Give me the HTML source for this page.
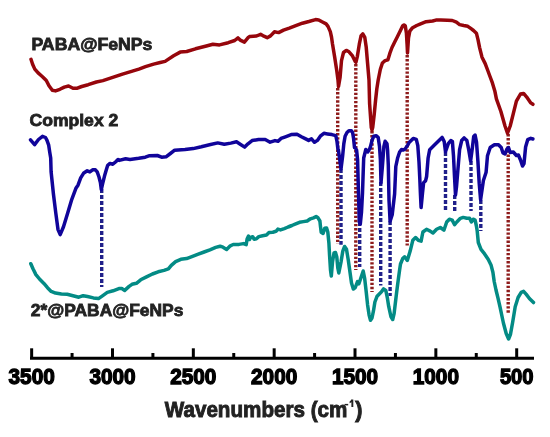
<!DOCTYPE html>
<html><head><meta charset="utf-8"><style>
html,body{margin:0;padding:0;background:#fff;}
svg{display:block;filter:blur(0.3px);}
text{font-family:"Liberation Sans",sans-serif;font-weight:bold;}
</style></head><body>
<svg width="550" height="437" viewBox="0 0 550 437">
<rect width="550" height="437" fill="#fff"/>
<g stroke-width="3.4" stroke-dasharray="2.4 1.7" fill="none">
<line x1="337.7" y1="88" x2="337.7" y2="244" stroke="#8e1c1c" />
<line x1="355.8" y1="64" x2="355.8" y2="270" stroke="#8e1c1c" />
<line x1="372" y1="131" x2="372" y2="292" stroke="#8e1c1c" />
<line x1="407.2" y1="55" x2="407.2" y2="245.6" stroke="#8e1c1c" />
<line x1="508.2" y1="134" x2="508.2" y2="313" stroke="#8e1c1c" />
<line x1="101.7" y1="189" x2="101.7" y2="287" stroke="#20208a" stroke-dasharray="4 2" />
<line x1="341" y1="169" x2="341" y2="244.7" stroke="#20208a" stroke-dasharray="4 2" />
<line x1="359.7" y1="222" x2="359.7" y2="267" stroke="#20208a" stroke-dasharray="4 2" />
<line x1="380.7" y1="182" x2="380.7" y2="285.5" stroke="#20208a" stroke-dasharray="4 2" />
<line x1="390.1" y1="221" x2="390.1" y2="296" stroke="#20208a" stroke-dasharray="4 2" />
<line x1="445.5" y1="152" x2="445.5" y2="212" stroke="#20208a" stroke-dasharray="4 2" />
<line x1="454.7" y1="195" x2="454.7" y2="211" stroke="#20208a" stroke-dasharray="4 2" />
<line x1="471" y1="161" x2="471" y2="211" stroke="#20208a" stroke-dasharray="4 2" />
<line x1="480.8" y1="200" x2="480.8" y2="231" stroke="#20208a" stroke-dasharray="4 2" />
</g>
<g fill="none" stroke-width="3.5" stroke-linejoin="round" stroke-linecap="round">
<polyline stroke="#96060c" points="31.0,59.3 32.6,64.2 34.8,69.1 38.1,72.9 42.5,76.7 46.3,80.5 49.0,85.8 52.3,90.2 55.5,90.9 59.9,89.3 64.3,87.1 68.6,86.0 73.0,88.2 77.4,88.2 81.7,86.5 88.2,84.7 96.4,82.0 102.9,80.6 112.7,77.4 122.5,74.1 130.7,71.6 138.9,69.1 145.5,66.7 153.6,64.1 160.2,62.5 165.1,61.4 173.6,55.8 180.2,52.1 186.7,51.5 195.5,48.8 206.4,46.0 212.9,44.3 219.5,44.9 228.2,42.7 234.7,40.5 238.0,37.9 240.2,40.1 244.4,42.1 248.5,37.2 250.0,36.4 256.5,36.0 260.6,34.3 263.9,36.2 267.2,37.7 270.5,35.9 274.5,31.8 278.6,32.6 283.5,30.1 289.3,28.1 295.8,25.6 302.4,23.2 308.9,21.5 315.5,19.6 318.7,19.9 322.0,21.8 326.1,23.9 328.0,26.4 330.3,31.6 331.5,37.0 332.5,44.0 334.6,56.6 336.7,70.3 338.0,80.0 338.5,86.5 340.1,77.2 341.5,60.7 343.5,52.5 346.3,50.4 349.0,51.8 352.5,55.9 355.2,61.4 355.9,62.3 357.3,56.6 359.3,44.2 361.0,36.0 362.8,33.9 364.8,37.4 366.2,47.0 367.6,63.5 369.0,80.0 369.6,103.6 371.3,127.6 372.0,130.0 372.7,127.6 374.2,114.5 375.6,100.0 376.8,89.0 378.2,80.0 380.3,69.5 382.4,63.0 385.1,60.7 387.9,59.8 389.9,53.2 392.0,47.5 394.7,42.0 397.5,36.5 400.2,31.0 402.6,26.0 404.0,25.0 405.3,26.0 406.4,33.0 407.1,44.7 407.5,53.0 408.5,38.0 409.8,31.2 412.6,27.7 416.7,25.5 420.0,24.1 426.1,21.7 432.6,21.0 435.9,20.1 440.8,20.1 447.4,20.2 452.3,20.5 456.4,22.2 459.6,24.6 463.7,25.5 467.8,26.3 471.1,28.7 473.5,30.5 476.4,33.2 478.0,39.6 479.6,47.6 482.0,57.2 485.2,63.6 487.6,70.0 490.0,76.5 492.4,82.9 494.8,90.9 496.4,98.9 500.9,111.5 505.0,126.0 507.5,133.2 510.2,126.0 513.3,113.6 516.4,101.2 520.5,94.0 523.6,93.4 526.7,97.1 530.8,102.9 532.9,104.3"/>
<polyline stroke="#10049a" points="30.5,139.8 34.6,144.6 38.5,139.5 42.5,136.3 45.5,137.5 47.0,140.4 48.7,145.2 49.7,152.0 50.7,158.0 51.1,171.8 53.4,193.8 55.8,213.1 58.0,229.6 60.2,234.6 63.5,226.8 67.7,213.1 71.8,199.3 75.9,188.3 78.0,185.2 80.7,177.9 83.5,173.3 87.2,170.8 89.9,171.9 92.6,169.8 95.4,169.8 97.2,171.9 99.0,177.0 100.4,182.5 101.3,189.5 102.7,183.4 104.5,176.1 106.4,169.6 107.7,165.3 110.0,163.4 112.8,164.2 115.5,162.0 118.0,159.5 119.2,160.4 125.6,158.8 130.0,159.4 138.7,158.3 145.3,157.2 149.6,155.7 157.3,155.5 161.6,157.2 166.0,156.8 170.4,153.5 174.7,150.2 185.0,149.6 193.2,148.6 201.4,146.8 209.5,144.8 217.7,142.9 224.3,144.3 230.8,143.1 236.5,141.8 240.6,144.4 244.7,147.1 248.0,143.8 252.1,140.6 258.6,139.5 265.2,139.5 270.1,142.2 275.0,140.6 278.1,141.3 281.0,138.4 285.4,136.8 291.2,134.6 297.0,134.2 301.4,136.7 305.7,138.9 308.6,140.4 311.5,138.9 314.5,142.3 317.4,140.4 320.3,136.2 323.9,133.3 327.5,133.9 331.9,134.6 335.8,135.6 337.0,141.5 337.9,149.0 338.4,149.9 339.9,160.8 341.0,169.0 342.6,156.4 343.8,143.9 345.1,136.3 347.0,132.5 348.9,130.7 351.4,130.7 352.6,132.5 353.6,138.8 354.5,147.6 355.1,147.6 356.6,150.1 357.6,160.0 358.4,190.0 359.3,222.0 360.3,224.0 361.5,212.0 362.5,193.0 363.2,172.0 363.7,158.0 365.8,149.5 367.7,152.0 369.0,150.1 370.2,147.6 372.1,140.1 373.8,136.3 376.3,135.7 378.2,137.6 379.5,146.4 380.4,160.0 381.0,182.8 382.5,165.0 383.9,146.4 385.1,141.3 387.0,143.9 387.6,150.1 388.3,165.0 389.0,200.0 390.1,221.2 392.2,214.8 394.6,194.0 395.8,166.5 397.7,157.7 399.6,152.0 401.5,149.5 403.3,150.1 405.2,148.9 407.7,145.1 409.1,142.5 413.2,138.4 416.3,139.4 417.8,145.6 419.0,162.1 419.8,178.6 420.5,195.1 421.1,207.5 422.5,193.0 423.6,182.7 425.6,180.7 426.6,176.5 428.1,158.0 429.7,149.7 433.9,145.6 438.0,141.5 442.1,137.4 444.2,141.5 445.5,151.8 448.3,143.6 450.8,140.5 452.4,141.5 453.5,155.9 454.5,176.5 455.5,195.0 456.5,186.9 458.2,166.2 459.6,149.7 461.7,140.5 464.1,137.9 466.9,140.6 468.8,150.2 470.6,161.0 472.4,147.5 473.7,136.5 475.1,135.1 476.5,142.0 477.9,161.2 479.2,183.2 480.6,199.7 483.4,180.5 486.1,172.2 487.5,155.7 490.2,147.5 494.4,144.7 498.5,144.7 501.2,147.5 503.0,153.0 505.0,154.0 507.0,149.0 508.5,147.5 510.2,152.5 513.3,152.0 516.4,155.5 518.4,155.0 520.5,160.0 522.5,166.0 524.0,163.5 525.6,147.0 527.7,139.7 530.8,138.3 532.9,139.0"/>
<polyline stroke="#038b85" points="30.8,263.7 33.0,268.8 35.9,274.6 39.5,279.0 43.9,283.4 47.5,287.7 51.2,291.4 55.5,293.1 61.4,294.0 67.2,294.3 73.0,295.7 78.8,297.2 83.2,295.7 87.5,296.5 93.4,297.9 98.5,298.6 102.1,296.1 107.3,292.4 113.1,290.8 118.9,288.6 121.8,288.6 124.7,290.4 129.1,286.4 132.0,284.3 136.4,283.3 140.7,279.8 146.5,276.9 152.4,274.0 158.2,271.8 164.0,270.4 168.4,268.9 171.3,265.3 175.6,261.6 180.8,259.3 186.6,258.6 192.5,256.4 198.3,254.2 204.1,252.0 209.9,249.8 215.7,247.4 220.1,246.2 223.0,247.2 226.6,249.4 230.3,245.8 233.2,244.5 239.0,244.4 243.4,243.6 246.2,244.6 247.1,239.0 248.5,236.0 249.6,239.5 250.5,237.4 252.7,236.8 254.2,239.2 256.4,238.8 258.8,236.6 262.6,235.7 266.5,235.1 269.0,232.6 272.8,232.2 276.0,231.3 277.9,229.1 280.5,229.9 284.3,228.6 288.1,227.0 291.9,225.5 295.7,223.9 299.5,222.3 303.4,221.6 307.2,221.0 310.4,218.8 313.5,217.8 316.1,216.6 318.0,217.8 319.9,221.0 320.5,226.6 321.2,232.2 323.1,233.4 324.7,228.3 326.5,227.9 327.8,232.0 328.9,243.0 329.6,255.8 330.5,270.0 331.3,276.0 332.5,262.0 334.0,253.0 335.5,252.5 336.8,257.0 337.8,268.0 338.8,273.0 341.0,262.1 342.8,251.1 344.6,246.5 346.5,249.3 348.3,260.3 350.1,273.1 351.5,283.0 353.3,289.0 355.3,287.5 357.5,281.6 358.9,283.8 361.1,277.3 363.2,271.0 364.7,278.7 366.2,291.8 367.6,304.9 369.1,315.1 370.5,320.2 372.0,318.0 373.5,310.7 374.9,302.0 377.1,296.2 379.3,294.0 381.5,291.8 383.6,288.9 385.8,290.4 387.3,297.6 388.7,306.4 390.9,316.5 392.7,319.5 394.1,313.6 395.3,303.5 396.7,291.8 398.2,280.2 399.6,270.0 400.5,264.0 402.7,258.6 404.6,256.8 407.3,260.4 410.1,251.3 412.8,240.3 415.6,237.5 418.3,240.3 421.1,241.2 422.9,232.0 426.5,229.3 430.2,231.1 433.0,233.0 436.6,229.3 440.3,227.5 443.9,230.2 446.7,222.0 449.4,219.2 452.2,220.1 454.6,224.7 456.8,222.0 460.4,218.3 463.2,217.4 466.8,218.3 469.6,218.3 471.4,222.0 473.2,219.2 475.1,220.1 476.4,226.0 477.2,231.0 478.3,242.5 481.0,249.3 484.6,253.9 488.3,259.4 491.0,264.9 492.9,272.2 494.2,281.5 496.0,290.0 498.0,298.2 500.0,306.8 503.4,323.0 506.2,333.5 508.6,339.0 510.4,334.6 512.7,322.0 515.2,306.8 518.1,297.5 521.2,292.4 523.6,291.3 526.3,294.4 529.4,298.5 532.5,301.6 533.5,302.6"/>
</g>
<g stroke="#000" stroke-width="3" fill="none">
<line x1="30" y1="358.2" x2="534" y2="358.2"/>
<line x1="31.65" y1="348.3" x2="31.65" y2="358" />
<line x1="112.49" y1="348.3" x2="112.49" y2="358" />
<line x1="193.33" y1="348.3" x2="193.33" y2="358" />
<line x1="274.17" y1="348.3" x2="274.17" y2="358" />
<line x1="355.01" y1="348.3" x2="355.01" y2="358" />
<line x1="435.85" y1="348.3" x2="435.85" y2="358" />
<line x1="516.69" y1="348.3" x2="516.69" y2="358" />
<line x1="72.07" y1="353" x2="72.07" y2="358" />
<line x1="152.91" y1="353" x2="152.91" y2="358" />
<line x1="233.75" y1="353" x2="233.75" y2="358" />
<line x1="314.59" y1="353" x2="314.59" y2="358" />
<line x1="395.43" y1="353" x2="395.43" y2="358" />
<line x1="476.27" y1="353" x2="476.27" y2="358" />
</g>
<g fill="#000" font-size="21.5" stroke="#000" stroke-width="1.3">
<text x="31.65" y="383.9" text-anchor="middle" textLength="46.2" lengthAdjust="spacingAndGlyphs">3500</text>
<text x="112.49" y="383.9" text-anchor="middle" textLength="46.2" lengthAdjust="spacingAndGlyphs">3000</text>
<text x="193.33" y="383.9" text-anchor="middle" textLength="46.2" lengthAdjust="spacingAndGlyphs">2500</text>
<text x="274.17" y="383.9" text-anchor="middle" textLength="46.2" lengthAdjust="spacingAndGlyphs">2000</text>
<text x="355.01" y="383.9" text-anchor="middle" textLength="46.2" lengthAdjust="spacingAndGlyphs">1500</text>
<text x="435.85" y="383.9" text-anchor="middle" textLength="46.2" lengthAdjust="spacingAndGlyphs">1000</text>
<text x="516.69" y="383.9" text-anchor="middle" textLength="33.6" lengthAdjust="spacingAndGlyphs">500</text>
</g>
<g fill="#222" font-size="17" stroke="#222" stroke-width="0.8">
<text x="31.4" y="50.3" textLength="121" lengthAdjust="spacingAndGlyphs">PABA@FeNPs</text>
<text x="29.5" y="125.6" textLength="88.8" lengthAdjust="spacingAndGlyphs">Complex 2</text>
<text x="30.8" y="316" textLength="152.6" lengthAdjust="spacingAndGlyphs">2*@PABA@FeNPs</text>
</g>
<g fill="#222" font-size="21.5" stroke="#222" stroke-width="0.9">
<text x="164.8" y="417.4" textLength="182.5" lengthAdjust="spacingAndGlyphs">Wavenumbers (cm</text><rect x="344.6" y="403.9" width="3.6" height="1.5" stroke="none"/><path d="M351.2 399.4 H353.3 V407 H351.4 V402.3 Q350.6 403 349.6 403.2 V401.5 Q350.8 400.9 351.2 399.4 Z" stroke="none"/><text x="355.2" y="417.4" stroke-width="0.9">)</text>
</g>
</svg>
</body></html>
